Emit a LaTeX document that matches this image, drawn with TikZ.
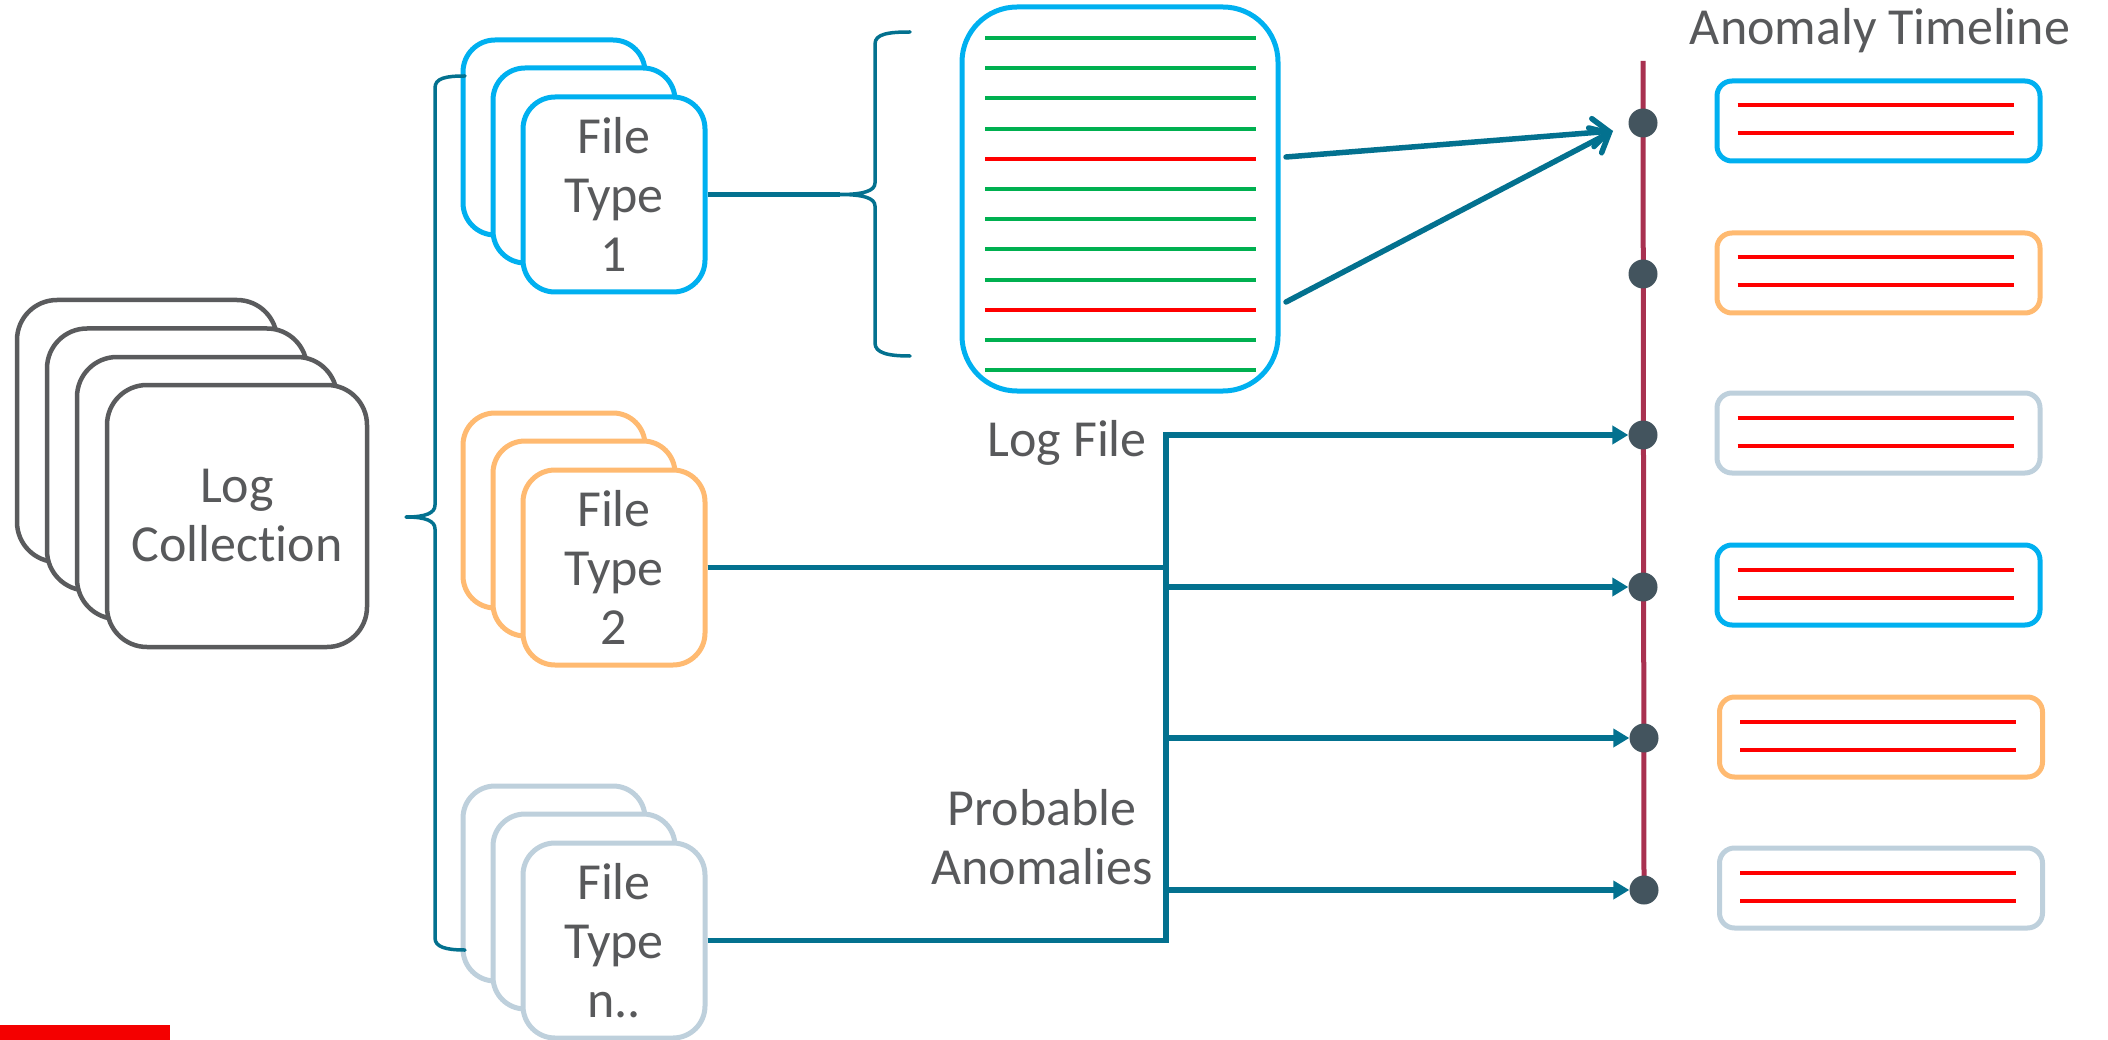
\documentclass[tikz,border=0pt]{standalone}
\usepackage{fontspec}
\setmainfont{Carlito}[Ligatures={NoCommon}]
\usetikzlibrary{arrows.meta,calc}
\definecolor{txtgray}{HTML}{58595B}
\definecolor{cardgray}{HTML}{5A5B5D}
\definecolor{ftblue}{HTML}{00B0F0}
\definecolor{ftorange}{HTML}{FFBA71}
\definecolor{ftpale}{HTML}{BED0DC}
\definecolor{link}{HTML}{03718F}
\definecolor{okgreen}{HTML}{00B050}
\definecolor{errred}{HTML}{FF0000}
\definecolor{barred}{HTML}{F40000}
\definecolor{timeline}{HTML}{A83150}
\definecolor{dotgray}{HTML}{43545E}
\begin{document}
\begin{tikzpicture}[x=1pt,y=-1pt,
  bigtext/.style={text=txtgray, font=\fontsize{52}{59}\selectfont},
  card/.style={draw, fill=white, line width=5pt, rounded corners=32pt,
    minimum width=182pt, minimum height=195pt, inner sep=0pt,
    align=center, bigtext},
  lccard/.style={card, draw=cardgray, line width=4.5pt, rounded corners=40pt,
    minimum width=260pt, minimum height=262pt},
  logbox/.style={draw=ftblue, line width=5pt, rounded corners=55pt,
    minimum width=316pt, minimum height=384pt, inner sep=0pt},
  tlbox/.style={draw, fill=white, line width=5pt, rounded corners=15pt,
    minimum width=323pt, minimum height=80pt, inner sep=0pt},
  tldot/.style={circle, fill=dotgray, minimum size=29pt, inner sep=0pt},
  brace/.style={link, line width=3.5pt, line cap=round, line join=round},
  conn/.style={link, line width=5.5pt},
  connarrow/.style={conn, -{Triangle[length=16pt,width=18pt]}},
  barbarrow/.style={link, line width=5.5pt, line cap=round,
    -{Straight Barb[length=16pt,width=28pt,line cap=round]}},
  logline/.style={line width=4pt},
  evline/.style={errred, line width=4pt},
  label/.style={bigtext, inner sep=0pt}
]
\useasboundingbox (0,0) rectangle (2108,1040);

% ---- log collection stack
\node[lccard] (lc1) at (147,431) {};
\node[lccard] (lc2) at (177,459.5) {};
\node[lccard] (lc3) at (207,488) {};
\node[lccard] (lc)  at (237,516) {Log\\Collection};

% ---- file type stacks
\node[card, draw=ftblue] (ft1a) at (554,137.5) {};
\node[card, draw=ftblue] (ft1b) at (584,165.5) {};
\node[card, draw=ftblue] (ft1)  at (614,194.5) {File\\Type\\1};

\node[card, draw=ftorange] (ft2a) at (554,510.5) {};
\node[card, draw=ftorange] (ft2b) at (584,538.5) {};
\node[card, draw=ftorange] (ft2)  at (614,567.5) {File\\Type\\2};

\node[card, draw=ftpale] (ftna) at (554,883.5) {};
\node[card, draw=ftpale] (ftnb) at (584,911.5) {};
\node[card, draw=ftpale] (ftn)  at (614,940.5) {File\\Type\\n..};

% ---- brace grouping the file types
\coordinate (b1tip) at (406,517);
\draw[brace] (465,76) .. controls (446,76) and (435,78) .. (435,88)
  -- (435,505) .. controls (435,513) and (426,517) .. (b1tip)
  .. controls (426,517) and (435,521) .. (435,529)
  -- (435,938) .. controls (435,947) and (446,950) .. (465,950);

% ---- brace opening the log file
\coordinate (b2tip) at (840,194.5);
\draw[brace] (910,32) .. controls (888,32) and (875,34) .. (875,44)
  -- (875,183) .. controls (875,191) and (863,194.5) .. (b2tip)
  .. controls (863,194.5) and (875,198) .. (875,206)
  -- (875,343) .. controls (875,353) and (888,356) .. (910,356);
\draw[conn] (ft1.east) -- (b2tip);

% ---- log file with its entries
\node[logbox] (log) at (1120,199) {};
\foreach \k in {0,...,11} {
  \pgfmathsetmacro{\yy}{38+30.2*\k}
  \ifnum\k=4 \def\lc{errred}\else\ifnum\k=9 \def\lc{errred}\else\def\lc{okgreen}\fi\fi
  \draw[logline, draw=\lc] (985,\yy) -- (1256,\yy);
}
\node[label, anchor=base east] (loglabel) at (1147,456) {Log File};

% ---- anomaly timeline
\node[label, anchor=base] (tltitle) at (1880,45) {Anomaly Timeline};
\coordinate (tltop) at (1643,61);
\coordinate (tlend) at (1644,890);
\draw[timeline, line width=5pt] (tltop) -- (tlend);
\node[tldot] (d1) at (1643,123) {};
\node[tldot] (d2) at (1643,274) {};
\node[tldot] (d3) at (1643,435) {};
\node[tldot] (d4) at (1643,587) {};
\node[tldot] (d5) at (1644,738) {};
\node[tldot] (d6) at (tlend) {};

\node[tlbox, draw=ftblue]   (t1) at (1878.5,121) {};
\node[tlbox, draw=ftorange] (t2) at (1878.5,273) {};
\node[tlbox, draw=ftpale]   (t3) at (1878.5,433) {};
\node[tlbox, draw=ftblue]   (t4) at (1878.5,585) {};
\node[tlbox, draw=ftorange] (t5) at (1881,737) {};
\node[tlbox, draw=ftpale]   (t6) at (1881,888) {};
\foreach \t in {t1,t2,t3,t4,t5,t6} {
  \draw[evline] ($(\t.west)+(23,-15.5)$) -- ($(\t.east)+(-29,-15.5)$);
  \draw[evline] ($(\t.west)+(23,12.5)$) -- ($(\t.east)+(-29,12.5)$);
}

% ---- anomalies found in the log file
\coordinate (a1) at (1286,157);
\coordinate (a2) at (1286,302);
\coordinate (hit) at (1613,131);
\draw[barbarrow] (a1) -- (hit);
\draw[barbarrow] (a2) -- (hit);

% ---- probable anomalies from the other file types
\coordinate (jx) at (1166,0);
\draw[connarrow] (ft2.east) -- (ft2.east -| jx) |- (d3.west);
\draw[connarrow] (ft2.east) -- (ft2.east -| jx) |- (d4.west);
\draw[connarrow] (ftn.east) -- (ftn.east -| jx) |- (d5.west);
\draw[connarrow] (ftn.east) -- (ftn.east -| jx) |- (d6.west);
\draw[conn] (ft2.east -| jx) -- (ftn.east -| jx);
\node[label, align=center] (prob) at (1042,837) {Probable\\Anomalies};

% ---- accent bar
\fill[barred] (0,1025) rectangle (170,1040);
\end{tikzpicture}
\end{document}
